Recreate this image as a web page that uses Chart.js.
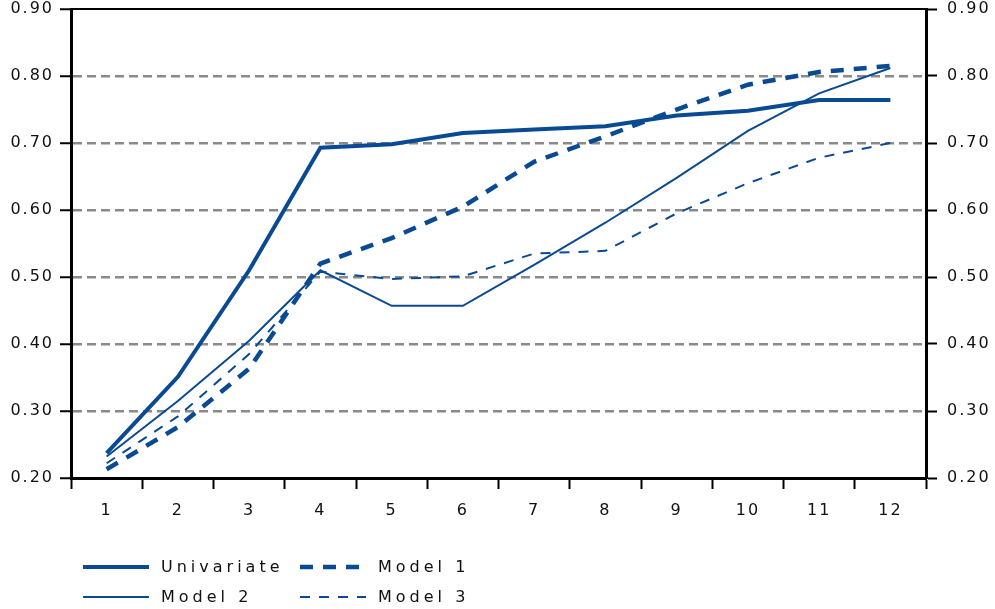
<!DOCTYPE html>
<html>
<head>
<meta charset="utf-8">
<script src="https://cdn.jsdelivr.net/npm/chart.js@4.4.1/dist/chart.umd.min.js"></script>
<style>
  html, body { margin: 0; padding: 0; background: #fff; }
  #wrap { width: 995px; height: 609px; }
</style>
</head>
<body>
<div id="wrap"><canvas id="chart" width="995" height="609"></canvas></div>
<script>
const categories = ['1', '2', '3', '4', '5', '6', '7', '8', '9', '10', '11', '12'];
const univariate = [0.237, 0.351, 0.510, 0.693, 0.698, 0.715, 0.720, 0.725, 0.741, 0.748, 0.764, 0.764];
const model1 = [0.213, 0.276, 0.363, 0.520, 0.558, 0.605, 0.672, 0.710, 0.750, 0.787, 0.806, 0.815];
const model2 = [0.232, 0.315, 0.405, 0.510, 0.457, 0.457, 0.518, 0.581, 0.648, 0.718, 0.774, 0.812];
const model3 = [0.222, 0.292, 0.385, 0.508, 0.497, 0.501, 0.535, 0.539, 0.595, 0.640, 0.678, 0.700];
const yTicks = [0.20, 0.30, 0.40, 0.50, 0.60, 0.70, 0.80, 0.90];

const blue = '#0a4a93';
const FONT = "'DejaVu Sans', Verdana, sans-serif";

// the original spaces its letters out; canvas resizes reset this, so set it each pass
const spacing = {
    id: 'spacing',
    beforeUpdate(chart) { chart.ctx.letterSpacing = '2px'; },
    beforeDraw(chart) { chart.ctx.letterSpacing = '2px'; }
};

const frame = {
    id: 'frame',
    afterDraw(chart) {
        const { ctx, chartArea: a } = chart;
        ctx.save();
        ctx.strokeStyle = '#000';
        ctx.lineWidth = 2;
        ctx.beginPath();
        ctx.moveTo(a.left - 1, a.top);
        ctx.lineTo(a.right + 1, a.top);
        ctx.stroke();
        ctx.restore();
    }
};

const legendBox = {
    id: 'legendBox',
    afterDraw(chart) {
        const ctx = chart.ctx;
        const spots = [[83, 567], [300, 567], [83, 597], [300, 597]];
        ctx.save();
        ctx.letterSpacing = '4px';
        ctx.font = '16px ' + FONT;
        ctx.fillStyle = '#111';
        ctx.textBaseline = 'middle';
        chart.data.datasets.forEach((ds, i) => {
            const [x, y] = spots[i];
            ctx.strokeStyle = ds.borderColor;
            ctx.lineWidth = ds.borderWidth;
            ctx.setLineDash(ds.borderDash || []);
            ctx.beginPath();
            ctx.moveTo(x, y);
            ctx.lineTo(x + 66, y);
            ctx.stroke();
            ctx.setLineDash([]);
            ctx.fillText(ds.label, x + 78, y + 1);
        });
        ctx.restore();
    }
};

const tickStyle = { color: '#111', font: { family: FONT, size: 16 } };

// fixed axis sizes so the plot area lands where it is in the original
function fixY(width) {
    return scale => {
        scale.width = width;
        scale.paddingTop = 0;
        scale.paddingBottom = 0;
    };
}

new Chart(document.getElementById('chart'), {
    type: 'line',
    data: {
        labels: categories,
        datasets: [
            { label: 'Univariate', data: univariate, borderColor: blue, borderWidth: 4 },
            { label: 'Model 1', data: model1, borderColor: blue, borderWidth: 4.5, borderDash: [13, 10] },
            { label: 'Model 2', data: model2, borderColor: blue, borderWidth: 2 },
            { label: 'Model 3', data: model3, borderColor: blue, borderWidth: 2, borderDash: [10, 9] }
        ]
    },
    options: {
        responsive: false,
        animation: false,
        layout: { padding: { top: 9, left: 0, right: 0, bottom: 0 } },
        elements: { line: { tension: 0, borderCapStyle: 'butt' }, point: { radius: 0 } },
        plugins: { legend: { display: false }, tooltip: { enabled: false } },
        scales: {
            x: {
                offset: true,
                grid: { offset: true, drawOnChartArea: false, tickLength: 11, tickColor: '#000', tickWidth: 2 },
                border: { color: '#000', width: 3 },
                ticks: Object.assign({ padding: 12, maxRotation: 0 }, tickStyle),
                afterFit(scale) { scale.height = 131; scale.paddingLeft = 0; scale.paddingRight = 0; }
            },
            y: {
                position: 'left',
                min: 0.2, max: 0.9,
                afterBuildTicks(scale) { scale.ticks = yTicks.map(v => ({ value: v })); },
                grid: {
                    color: c => (c.index === yTicks.length - 1 ? 'rgba(0,0,0,0)' : '#8a8a8a'),
                    lineWidth: 2.5,
                    tickLength: 11, tickColor: '#000', tickWidth: 2
                },
                border: { color: '#000', width: 3, dash: [9, 5] },
                ticks: Object.assign({ padding: 6, callback: v => v.toFixed(2) }, tickStyle),
                afterFit: fixY(71)
            },
            y2: {
                position: 'right',
                min: 0.2, max: 0.9,
                afterBuildTicks(scale) { scale.ticks = yTicks.map(v => ({ value: v })); },
                grid: { drawOnChartArea: false, tickLength: 11, tickColor: '#000', tickWidth: 2 },
                border: { color: '#000', width: 3 },
                ticks: Object.assign({ padding: 10, callback: v => v.toFixed(2) }, tickStyle),
                afterFit: fixY(69)
            }
        }
    },
    plugins: [spacing, frame, legendBox]
});
</script>
</body>
</html>
